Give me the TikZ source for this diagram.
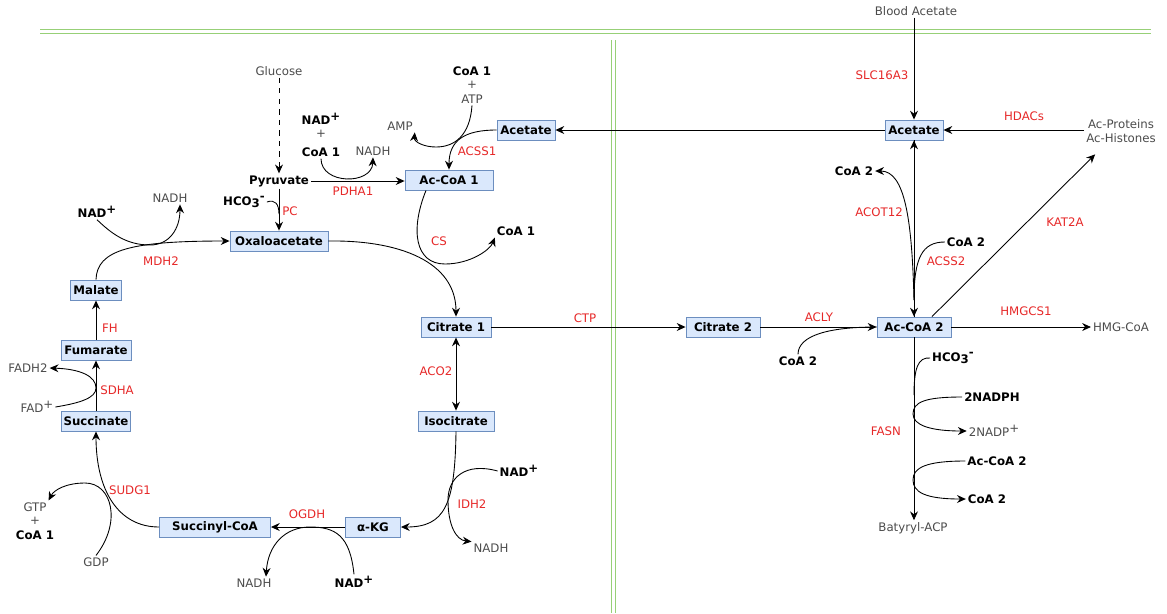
\documentclass[tikz,border=0pt]{standalone}
\usepackage{fontspec}
\setmainfont{DejaVu Sans}
\definecolor{pwbox}{RGB}{218,232,252}
\definecolor{pwedge}{RGB}{108,142,191}
\definecolor{pwred}{RGB}{230,40,40}
\definecolor{pwgray}{RGB}{75,75,75}
\definecolor{pwgreen}{RGB}{151,208,119}
\usetikzlibrary{arrows.meta,calc}
\newcommand{\upp}{\raisebox{0.6ex}{+}}
\newcommand{\hcothree}{HCO\raisebox{-0.3ex}{3}\raisebox{0.8ex}{-}}

\begin{document}
\begin{tikzpicture}[x=0.02cm, y=-0.02cm,
    font=\fontsize{6.7}{7.6}\selectfont,
    >={Stealth[length=5pt,width=4.5pt]},
    met/.style={draw=pwedge, fill=pwbox, font=\fontsize{6.7}{7.6}\selectfont\bfseries,
      minimum height=0.4cm, inner sep=1pt, line width=0.5pt},
    cof/.style={text=pwgray, inner sep=1pt},
    bcof/.style={text=black, font=\fontsize{6.7}{7.6}\selectfont\bfseries, inner sep=1pt},
    enz/.style={text=pwred, inner sep=1pt},
    arr/.style={->, line width=0.5pt},
    side/.style={line width=0.5pt},
    membrane/.style={pwgreen, line width=0.55pt}]
    \useasboundingbox (0,0) rectangle (1167,613);

    % Membranes (double green lines)
    \draw[membrane] (40,29.5) -- (1151,29.5);
    \draw[membrane] (40,33.5) -- (1151,33.5);
    \draw[membrane] (611,40) -- (611,613);
    \draw[membrane] (615,40) -- (615,613);

    % Metabolite boxes
    \node[met, minimum width=1.16cm] (ace1)  at (526,130) {Acetate};
    \node[met, minimum width=1.76cm] (acoa1) at (449,180) {Ac-CoA 1};
    \node[met, minimum width=1.96cm] (oaa)   at (279,241) {Oxaloacetate};
    \node[met, minimum width=1.02cm] (mal)   at (96,290)  {Malate};
    \node[met, minimum width=1.4cm]  (fum)   at (96,350)  {Fumarate};
    \node[met, minimum width=1.3cm]  (suc)   at (96,421)  {Succinate};
    \node[met, minimum width=2.22cm] (sucoa) at (215,527) {Succinyl-CoA};
    \node[met, minimum width=1.1cm]  (akg)   at (373,527) {α-KG};
    \node[met, minimum width=1.4cm]  (cit1)  at (456,327) {Citrate 1};
    \node[met, minimum width=1.52cm] (icit)  at (456,421) {Isocitrate};
    \node[met, minimum width=1.48cm] (cit2)  at (723,327) {Citrate 2};
    \node[met, minimum width=1.48cm] (acoa2) at (914,327) {Ac-CoA 2};
    \node[met, minimum width=1.16cm] (ace2)  at (914,130) {Acetate};

    % Cofactors, mitochondrion
    \node[cof]  (glc)   at (279,71)  {Glucose};
    \node[bcof] (coaA)  at (472,71)  {CoA 1};
    \node[cof]  (plusA) at (472,85)  {+};
    \node[cof]  (atp)   at (472,99)  {ATP};
    \node[bcof] (nadB)  at (321,119) {NAD\upp};
    \node[cof]  (plusB) at (321,134) {+};
    \node[bcof] (coaB)  at (321,152) {CoA 1};
    \node[cof]  (amp)   at (400,126) {AMP};
    \node[cof]  (nadhB) at (373,151) {NADH};
    \node[bcof] (pyr)   at (279,181) {Pyruvate};
    \node[bcof] (hcoA)  at (244,202) {\hcothree};
    \node[bcof] (nadA)  at (97,212)  {NAD\upp};
    \node[cof]  (nadhA) at (170,198) {NADH};
    \node[bcof] (coaC)  at (516,231) {CoA 1};
    \node[cof]  (fadh)  at (28,368)  {FADH2};
    \node[cof]  (fad)   at (37,407)  {FAD\upp};
    \node[cof]  (gtp)   at (35,507)  {GTP};
    \node[cof]  (plusC) at (35,521)  {+};
    \node[bcof] (coaD)  at (35,535)  {CoA 1};
    \node[cof]  (gdp)   at (96,562)  {GDP};
    \node[cof]  (nadhD) at (254,583) {NADH};
    \node[bcof] (nadD)  at (354,582) {NAD\upp};
    \node[bcof] (nadC)  at (519,471) {NAD\upp};
    \node[cof]  (nadhC) at (491,548) {NADH};

    % Cofactors, cytosol
    \node[cof]  (blood) at (916,11)  {Blood Acetate};
    \node[cof, align=center] (acprot) at (1121,131) {Ac-Proteins\\Ac-Histones};
    \node[bcof] (coaE)  at (854,171) {CoA 2};
    \node[bcof] (coaF)  at (966,242) {CoA 2};
    \node[bcof] (coaG)  at (798,361) {CoA 2};
    \node[cof]  (hmg)   at (1121,327) {HMG-CoA};
    \node[bcof] (hcoB)  at (953,358) {\hcothree};
    \node[bcof] (nadph) at (992,397) {2NADPH};
    \node[cof]  (nadp)  at (994,431) {2NADP\upp};
    \node[bcof] (acoa3) at (997,461) {Ac-CoA 2};
    \node[bcof] (coaH)  at (987,499) {CoA 2};
    \node[cof]  (bacp)  at (913,528) {Batyryl-ACP};

    % Enzymes
    \node[enz] (pdha)  at (353,191) {PDHA1};
    \node[enz] (pc)    at (290,211) {PC};
    \node[enz] (acss1) at (477,151) {ACSS1};
    \node[enz] (cs)    at (439,241) {CS};
    \node[enz] (mdh)   at (161,261) {MDH2};
    \node[enz] (fh)    at (110,328) {FH};
    \node[enz] (sdha)  at (117,390) {SDHA};
    \node[enz] (sudg)  at (130,490) {SUDG1};
    \node[enz] (ogdh)  at (307,514) {OGDH};
    \node[enz] (idh)   at (472,504) {IDH2};
    \node[enz] (aco)   at (436,371) {ACO2};
    \node[enz] (ctp)   at (585,318) {CTP};
    \node[enz] (acly)  at (819,317) {ACLY};
    \node[enz] (slc)   at (882,75)  {SLC16A3};
    \node[enz] (hdac)  at (1024,116) {HDACs};
    \node[enz] (acot)  at (879,212) {ACOT12};
    \node[enz] (acss2) at (946,261) {ACSS2};
    \node[enz] (kat)   at (1065,222) {KAT2A};
    \node[enz] (hmgcs) at (1026,311) {HMGCS1};
    \node[enz] (fasn)  at (886,431) {FASN};

    % Merge points on main arrows
    \coordinate (pcm) at (279,214);
    \coordinate (acm) at (914,300);
    \coordinate (fam) at (914,395);

    % Pyruvate and acetate entry
    \draw[arr, dashed] (glc.south) -- (pyr.north);
    \draw[arr] (pyr.east) -- (pyr.east -| acoa1.west);
    \draw[arr] (coaB.south) .. controls (321,185) and (372,185) .. (nadhB.south);
    \draw[arr] (pyr.south) -- (oaa.north);
    \draw[side] (hcoA.east) .. controls (275,199) and (279,204) .. (pcm);
    \draw[arr] (ace2.west) -- (ace1.east);
    \draw[arr] (ace1.west) .. controls (465,130) and (449,140) .. (acoa1.north);
    \draw[arr] (atp.south) .. controls (470,135) and (455,147) .. (436,147)
      .. controls (424,147) and (414,142) .. (amp.south east);

    % TCA cycle
    \draw[arr] ($(acoa1.south)+(-23,0)$) .. controls (410,230) and (415,264) .. (445,264)
      .. controls (470,264) and (490,250) .. (coaC.south west);
    \draw[arr] (oaa.east) .. controls (400,240) and (456,262) .. (cit1.north);
    \draw[<->, side] (cit1.south) -- (icit.north);
    \draw[arr] (icit.south) .. controls (455,505) and (445,527) .. (akg.east);
    \draw[arr] (nadC.west) .. controls (465,462) and (448,478) .. (448,500)
      .. controls (448,525) and (456,540) .. (nadhC.north west);
    \draw[arr] (akg.west) -- (sucoa.east);
    \draw[arr] (nadD.north) .. controls (350,535) and (335,527) .. (310,527)
      .. controls (285,527) and (268,545) .. ($(nadhD.north)+(12,0)$);
    \draw[arr] (sucoa.west) .. controls (118,527) and (96,490) .. (suc.south);
    \draw[arr] (gdp.north) .. controls (122,522) and (112,483) .. (85,483)
      .. controls (66,483) and (54,490) .. (gtp.north east);
    \draw[arr] (suc.north) -- (fum.south);
    \draw[arr] (fad.east) .. controls (80,403) and (96,398) .. (96,388)
      .. controls (96,376) and (80,369) .. (fadh.east);
    \draw[arr] (fum.north) -- (mal.south);
    \draw[arr] (mal.north) .. controls (97,250) and (130,241) .. (oaa.west);
    \draw[arr] (nadA.south) .. controls (110,232) and (125,245) .. (150,245)
      .. controls (170,245) and (180,228) .. ($(nadhA.south)+(10,0)$);

    % Cytosol
    \draw[arr] (cit1.east) -- (cit2.west);
    \draw[arr] (cit2.east) -- (acoa2.west);
    \draw[side] (coaG.north) .. controls (798,335) and (830,327) .. (acoa2.west);
    \draw[arr] (blood.south -| ace2.north) -- (ace2.north);
    \draw[arr] (acprot.west |- ace2.east) -- (ace2.east);
    \draw[arr] (acoa2.north) -- (ace2.south);
    \draw[arr] (ace2.south) -- (acoa2.north);
    \draw[arr] (acm) .. controls (912,220) and (905,171) .. (coaE.east);
    \draw[side] (coaF.west) .. controls (922,242) and (914,258) .. (acm);
    \draw[arr] ($(acoa2.north)+(18,0)$) -- ($(acprot.south west)+(11,10)$);
    \draw[arr] (acoa2.east) -- (hmg.west);
    \draw[arr] (acoa2.south) -- (acoa2.south |- bacp.north);
    \draw[side] (hcoB.west) .. controls (918,357) and (914,368) .. (fam);
    \draw[arr] (nadph.west) .. controls (925,397) and (913,402) .. (913,414)
      .. controls (913,425) and (930,431) .. (nadp.west);
    \draw[arr] (acoa3.west) .. controls (925,461) and (913,468) .. (913,480)
      .. controls (913,492) and (925,499) .. (coaH.west);
\end{tikzpicture}
\end{document}
